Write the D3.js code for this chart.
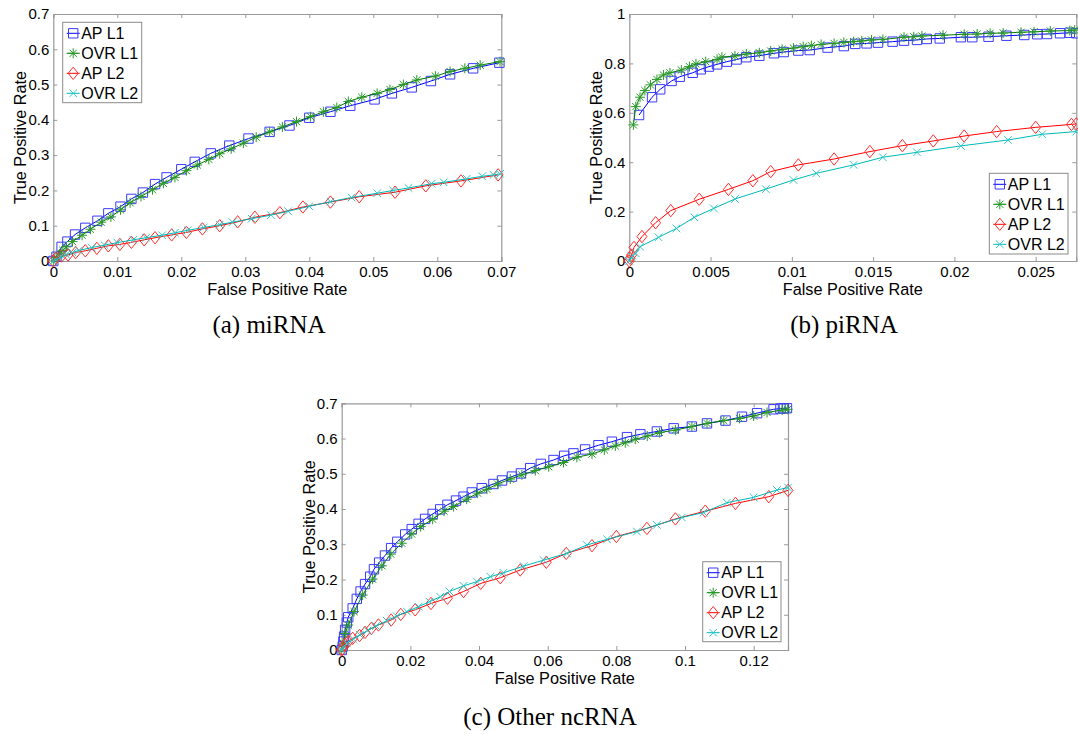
<!DOCTYPE html>
<html>
<head>
<meta charset="utf-8">
<script src="https://cdn.jsdelivr.net/npm/d3@7"></script>
<style>
  html, body { margin: 0; padding: 0; background: #ffffff; }
  svg { display: block; }
  .tick-label { font-family: "Liberation Sans", Arial, sans-serif; font-size: 15px; fill: #000; }
  .axis-title { font-family: "Liberation Sans", Arial, sans-serif; font-size: 16.25px; fill: #000; }
  .legend-text { font-family: "Liberation Sans", Arial, sans-serif; font-size: 16px; fill: #000; }
  .caption { font-family: "Liberation Serif", "Times New Roman", serif; font-size: 25px; fill: #000; }
</style>
</head>
<body>
<svg id="chart" width="1078" height="734"></svg>
<script>
// ROC curves (false positive rate, true positive rate) for each RNA class

// (a) miRNA
const miApL1 = [[0,0],[0.0005,0.012],[0.0013,0.04],[0.0022,0.055],[0.0034,0.075],[0.005,0.094],[0.0069,0.114],[0.0086,0.135],[0.0105,0.154],[0.0122,0.176],[0.014,0.194],[0.0159,0.218],[0.0177,0.237],[0.02,0.26],[0.0221,0.281],[0.0246,0.305],[0.0275,0.327],[0.0305,0.347],[0.0338,0.366],[0.0369,0.384],[0.04,0.406],[0.0433,0.423],[0.0464,0.44],[0.0502,0.458],[0.0529,0.475],[0.056,0.492],[0.059,0.51],[0.062,0.529],[0.0656,0.546],[0.0697,0.562]];
const miOvrL1 = [[0,0],[0.0005,0.01],[0.001,0.02],[0.0015,0.03],[0.002,0.04],[0.003,0.055],[0.0045,0.073],[0.0058,0.09],[0.0075,0.11],[0.009,0.125],[0.0105,0.145],[0.012,0.165],[0.0137,0.183],[0.0155,0.202],[0.0172,0.22],[0.019,0.237],[0.0208,0.256],[0.0225,0.272],[0.0243,0.288],[0.026,0.304],[0.0278,0.318],[0.0297,0.334],[0.0317,0.351],[0.0338,0.366],[0.0358,0.38],[0.038,0.395],[0.0402,0.409],[0.0422,0.423],[0.0443,0.435],[0.0461,0.452],[0.0482,0.464],[0.0506,0.475],[0.0526,0.486],[0.0547,0.5],[0.0568,0.513],[0.0597,0.524],[0.062,0.537],[0.0643,0.546],[0.0667,0.555],[0.0698,0.565]];
const miApL2 = [[0,0],[0.0004,0.008],[0.0013,0.014],[0.0023,0.017],[0.0035,0.024],[0.005,0.029],[0.0068,0.036],[0.0086,0.043],[0.0104,0.047],[0.0122,0.053],[0.0142,0.06],[0.0159,0.066],[0.0185,0.074],[0.0208,0.081],[0.0233,0.091],[0.026,0.1],[0.0288,0.111],[0.0315,0.124],[0.0354,0.137],[0.039,0.153],[0.0433,0.167],[0.0478,0.182],[0.0534,0.195],[0.0582,0.213],[0.0637,0.227],[0.0695,0.244]];
const miOvrL2 = [[0,0],[0.001,0.01],[0.002,0.018],[0.003,0.024],[0.004,0.03],[0.006,0.038],[0.008,0.045],[0.01,0.052],[0.0125,0.06],[0.0145,0.066],[0.017,0.073],[0.019,0.08],[0.021,0.087],[0.0235,0.095],[0.026,0.103],[0.028,0.11],[0.031,0.12],[0.034,0.13],[0.0367,0.141],[0.04,0.155],[0.0433,0.168],[0.0466,0.18],[0.0506,0.192],[0.0531,0.2],[0.0555,0.207],[0.0591,0.219],[0.061,0.223],[0.0646,0.233],[0.067,0.24],[0.0688,0.244],[0.0698,0.247]];

// (b) piRNA
const piApL1 = [[0.0006,0.591],[0.0014,0.663],[0.0019,0.695],[0.0026,0.729],[0.0031,0.746],[0.0039,0.762],[0.0044,0.776],[0.0049,0.787],[0.0054,0.796],[0.006,0.807],[0.0066,0.816],[0.0072,0.825],[0.008,0.831],[0.0089,0.841],[0.0095,0.846],[0.0104,0.852],[0.0111,0.854],[0.0122,0.864],[0.0132,0.87],[0.0139,0.879],[0.0146,0.881],[0.0153,0.884],[0.0162,0.888],[0.0169,0.892],[0.0177,0.895],[0.0183,0.899],[0.0191,0.901],[0.0204,0.906],[0.0211,0.906],[0.0221,0.908],[0.0232,0.912],[0.0243,0.915],[0.0251,0.918],[0.0257,0.919],[0.0265,0.922],[0.0271,0.924],[0.0275,0.922]];
const piOvrL1 = [[0.00025,0.551],[0.0004,0.625],[0.00066,0.663],[0.00096,0.69],[0.0013,0.713],[0.0017,0.735],[0.0021,0.753],[0.0025,0.762],[0.0032,0.773],[0.0037,0.787],[0.0041,0.798],[0.0047,0.807],[0.0054,0.816],[0.0057,0.825],[0.0065,0.83],[0.0072,0.838],[0.008,0.843],[0.0087,0.85],[0.0094,0.857],[0.0101,0.862],[0.0107,0.868],[0.0112,0.872],[0.0118,0.877],[0.0126,0.881],[0.0132,0.885],[0.0138,0.888],[0.0143,0.891],[0.0149,0.895],[0.0156,0.897],[0.0169,0.906],[0.0175,0.908],[0.018,0.911],[0.0193,0.914],[0.0206,0.918],[0.0214,0.919],[0.0222,0.922],[0.023,0.923],[0.0241,0.926],[0.0249,0.928],[0.0259,0.931],[0.0271,0.933],[0.0274,0.935]];
const piApL2 = [[0,0],[0.00004,0.011],[0.00014,0.024],[0.00029,0.055],[0.00078,0.099],[0.00162,0.155],[0.00255,0.204],[0.0043,0.25],[0.0061,0.29],[0.0076,0.325],[0.0087,0.362],[0.0104,0.389],[0.0126,0.413],[0.0148,0.443],[0.0168,0.467],[0.0187,0.486],[0.0206,0.506],[0.0226,0.524],[0.025,0.541],[0.0272,0.553],[0.0275,0.555]];
const piOvrL2 = [[0,0],[0.00014,0.018],[0.0004,0.031],[0.00066,0.058],[0.0018,0.096],[0.0029,0.132],[0.004,0.177],[0.0052,0.213],[0.0065,0.251],[0.0084,0.291],[0.0101,0.328],[0.0115,0.355],[0.0138,0.389],[0.0156,0.42],[0.0177,0.44],[0.0204,0.466],[0.0233,0.49],[0.0254,0.513],[0.0275,0.524]];

// (c) Other ncRNA
const ncApL1 = [[0,0],[0.0003,0.01],[0.0005,0.024],[0.0007,0.038],[0.001,0.057],[0.0015,0.078],[0.0019,0.093],[0.0032,0.118],[0.0044,0.145],[0.0055,0.166],[0.0068,0.187],[0.0083,0.208],[0.0094,0.229],[0.0109,0.248],[0.0126,0.268],[0.0144,0.289],[0.0162,0.307],[0.0185,0.328],[0.0204,0.343],[0.0224,0.358],[0.0243,0.372],[0.0265,0.386],[0.0287,0.399],[0.0308,0.412],[0.0333,0.424],[0.0355,0.435],[0.0379,0.447],[0.0408,0.459],[0.0442,0.471],[0.0467,0.481],[0.0496,0.492],[0.0522,0.501],[0.0549,0.516],[0.058,0.528],[0.0617,0.539],[0.0648,0.551],[0.0675,0.558],[0.0709,0.569],[0.0748,0.581],[0.0787,0.591],[0.0831,0.604],[0.087,0.612],[0.0918,0.62],[0.0967,0.629],[0.102,0.634],[0.1064,0.643],[0.1118,0.651],[0.1166,0.662],[0.121,0.672],[0.1258,0.683],[0.1278,0.685],[0.1288,0.686],[0.1297,0.686]];
const ncOvrL1 = [[0,0],[0.0005,0.019],[0.001,0.047],[0.0019,0.071],[0.0036,0.109],[0.0061,0.156],[0.009,0.201],[0.0117,0.239],[0.0143,0.272],[0.0175,0.303],[0.0204,0.329],[0.023,0.35],[0.0265,0.371],[0.0298,0.394],[0.0326,0.407],[0.0364,0.428],[0.0396,0.445],[0.0423,0.456],[0.0454,0.471],[0.0491,0.485],[0.0525,0.497],[0.0564,0.509],[0.0603,0.52],[0.0646,0.532],[0.0685,0.547],[0.0729,0.556],[0.0765,0.568],[0.0797,0.579],[0.0826,0.588],[0.0855,0.598],[0.089,0.607],[0.0926,0.617],[0.0972,0.624],[0.102,0.634],[0.1064,0.643],[0.1113,0.651],[0.1159,0.657],[0.12,0.664],[0.1239,0.674],[0.1283,0.681],[0.1299,0.683]];
const ncApL2 = [[0,0],[0.0002,0.002],[0.0005,0.012],[0.001,0.016],[0.0019,0.024],[0.0032,0.033],[0.0052,0.041],[0.0068,0.05],[0.0086,0.061],[0.0107,0.071],[0.0144,0.085],[0.0172,0.101],[0.0214,0.114],[0.026,0.132],[0.0308,0.147],[0.0355,0.166],[0.0405,0.189],[0.0462,0.205],[0.052,0.227],[0.0596,0.249],[0.0654,0.274],[0.0729,0.296],[0.08,0.322],[0.0889,0.345],[0.0972,0.372],[0.1059,0.394],[0.1147,0.416],[0.1244,0.435],[0.13,0.453]];
const ncOvrL2 = [[0,0],[0.0005,0.009],[0.0015,0.019],[0.0034,0.031],[0.0053,0.043],[0.0075,0.055],[0.01,0.068],[0.0131,0.083],[0.016,0.096],[0.019,0.109],[0.0224,0.123],[0.0256,0.137],[0.0287,0.151],[0.0314,0.166],[0.0355,0.182],[0.0394,0.194],[0.0433,0.208],[0.0471,0.219],[0.053,0.238],[0.0588,0.255],[0.0656,0.274],[0.0714,0.298],[0.0773,0.314],[0.086,0.336],[0.0918,0.355],[0.0991,0.376],[0.1054,0.39],[0.1122,0.418],[0.12,0.433],[0.1268,0.454],[0.13,0.461]];

// Series names and tick values
const seriesNames = ["AP L1", "OVR L1", "AP L2", "OVR L2"];
const miXTicks = [0, 0.01, 0.02, 0.03, 0.04, 0.05, 0.06, 0.07];
const miXLabels = ["0", "0.01", "0.02", "0.03", "0.04", "0.05", "0.06", "0.07"];
const miYTicks = [0, 0.1, 0.2, 0.3, 0.4, 0.5, 0.6, 0.7];
const miYLabels = ["0", "0.1", "0.2", "0.3", "0.4", "0.5", "0.6", "0.7"];
const piXTicks = [0, 0.005, 0.01, 0.015, 0.02, 0.025];
const piXLabels = ["0", "0.005", "0.01", "0.015", "0.02", "0.025"];
const piYTicks = [0, 0.2, 0.4, 0.6, 0.8, 1];
const piYLabels = ["0", "0.2", "0.4", "0.6", "0.8", "1"];
const ncXTicks = [0, 0.02, 0.04, 0.06, 0.08, 0.1, 0.12];
const ncXLabels = ["0", "0.02", "0.04", "0.06", "0.08", "0.1", "0.12"];
const ncYTicks = miYTicks;
const ncYLabels = miYLabels;
const captions = ["(a) miRNA", "(b) piRNA", "(c) Other ncRNA"];

// Visual styles for the four series
const styles = [
  { line: "#0000ff", marker: "#3a3aff", shape: "square" },
  { line: "#007a00", marker: "#2a9a2a", shape: "star" },
  { line: "#ff0000", marker: "#ff3030", shape: "diamond" },
  { line: "#00b8b8", marker: "#30c8c8", shape: "cross" }
];

function markerPath(shape) {
  switch (shape) {
    case "square": return "M-4.7,-4.7H4.7V4.7H-4.7Z";
    case "diamond": return "M0,-6.2L5,0L0,6.2L-5,0Z";
    case "star": return "M-5,0H5M0,-5V5M-3.6,-3.6L3.6,3.6M-3.6,3.6L3.6,-3.6";
    case "cross": return "M-3.8,-3.8L3.8,3.8M-3.8,3.8L3.8,-3.8";
  }
}

const svg = d3.select("#chart");

function drawPanel(cfg) {
  const x = d3.scaleLinear().domain(cfg.xDomain).range([cfg.left, cfg.right]);
  const y = d3.scaleLinear().domain(cfg.yDomain).range([cfg.bottom, cfg.top]);
  const g = svg.append("g");
  const tickLen = 4;
  const boxColor = "#9a9a9a";

  // axes with inward ticks on all four sides
  const axes = [
    { ax: d3.axisBottom(x).tickValues(cfg.xTicks).tickSize(-tickLen).tickPadding(5).tickFormat((d, i) => cfg.xLabels[i]), at: `translate(0,${cfg.bottom})` },
    { ax: d3.axisTop(x).tickValues(cfg.xTicks).tickSize(-tickLen).tickFormat(""), at: `translate(0,${cfg.top})` },
    { ax: d3.axisLeft(y).tickValues(cfg.yTicks).tickSize(-tickLen).tickPadding(4).tickFormat((d, i) => cfg.yLabels[i]), at: `translate(${cfg.left},0)` },
    { ax: d3.axisRight(y).tickValues(cfg.yTicks).tickSize(-tickLen).tickFormat(""), at: `translate(${cfg.right},0)` }
  ];
  axes.forEach(a => {
    const ag = g.append("g").attr("transform", a.at).call(a.ax);
    ag.attr("font-family", null).attr("font-size", null);
    ag.select(".domain").attr("stroke", boxColor).attr("stroke-width", 1.2);
    ag.selectAll(".tick line").attr("stroke", boxColor).attr("stroke-width", 1);
    ag.selectAll(".tick text").attr("class", "tick-label").attr("fill", "#000");
  });

  // axis titles
  g.append("text").attr("class", "axis-title")
    .attr("x", (cfg.left + cfg.right) / 2).attr("y", cfg.bottom + 33.5)
    .attr("text-anchor", "middle").text("False Positive Rate");
  g.append("text").attr("class", "axis-title")
    .attr("transform", `translate(${cfg.left - 27},${(cfg.top + cfg.bottom) / 2}) rotate(-90)`)
    .attr("text-anchor", "middle").text("True Positive Rate");

  // curves
  const line = d3.line().x(d => x(d[0])).y(d => y(d[1]));
  cfg.series.forEach((data, i) => {
    const st = styles[i];
    const sg = g.append("g");
    sg.append("path").datum(data).attr("d", line)
      .attr("fill", "none").attr("stroke", st.line).attr("stroke-width", 1);
    sg.selectAll("path.mk").data(data).join("path").attr("class", "mk")
      .attr("transform", d => `translate(${x(d[0])},${y(d[1])})`)
      .attr("d", markerPath(st.shape))
      .attr("fill", "none").attr("stroke", st.marker).attr("stroke-width", 1);
  });

  // legend
  const lg = g.append("g");
  lg.append("rect").attr("x", cfg.legend.x).attr("y", cfg.legend.y)
    .attr("width", cfg.legend.w).attr("height", cfg.legend.h)
    .attr("fill", "#fff").attr("stroke", "#8a8a8a").attr("stroke-width", 1);
  seriesNames.forEach((name, i) => {
    const st = styles[i];
    const cy = cfg.legend.y + 11 + i * 20;
    const x0 = cfg.legend.x + 4;
    lg.append("line").attr("x1", x0).attr("x2", x0 + 13).attr("y1", cy).attr("y2", cy)
      .attr("stroke", st.line).attr("stroke-width", 1);
    lg.append("path").attr("transform", `translate(${x0 + 6.5},${cy})`)
      .attr("d", markerPath(st.shape)).attr("fill", "none")
      .attr("stroke", st.marker).attr("stroke-width", 1);
    lg.append("text").attr("class", "legend-text").attr("x", x0 + 14.5).attr("y", cy + 5.7).text(name);
  });

  // caption
  if (cfg.caption) {
    svg.append("text").attr("class", "caption").attr("x", cfg.caption.x).attr("y", cfg.caption.y)
      .attr("text-anchor", "middle").text(cfg.caption.text);
  }
}

drawPanel({
  left: 53.3, right: 501.3, top: 14, bottom: 261,
  xDomain: [0, 0.07], yDomain: [0, 0.7],
  xTicks: miXTicks, xLabels: miXLabels, yTicks: miYTicks, yLabels: miYLabels,
  series: [miApL1, miOvrL1, miApL2, miOvrL2],
  legend: { x: 62.7, y: 22.3, w: 79, h: 80.4 },
  caption: { x: 269, y: 333, text: captions[0] }
});

drawPanel({
  left: 629.3, right: 1076.3, top: 14, bottom: 261,
  xDomain: [0, 0.0275], yDomain: [0, 1],
  xTicks: piXTicks, xLabels: piXLabels, yTicks: piYTicks, yLabels: piYLabels,
  series: [piApL1, piOvrL1, piApL2, piOvrL2],
  legend: { x: 989.3, y: 173.3, w: 78.7, h: 80.7 },
  caption: { x: 844, y: 333, text: captions[1] }
});

drawPanel({
  left: 341.7, right: 788, top: 403.3, bottom: 650,
  xDomain: [0, 0.13], yDomain: [0, 0.7],
  xTicks: ncXTicks, xLabels: ncXLabels, yTicks: ncYTicks, yLabels: ncYLabels,
  series: [ncApL1, ncOvrL1, ncApL2, ncOvrL2],
  legend: { x: 702.7, y: 561.7, w: 78.3, h: 80 },
  caption: { x: 550, y: 725, text: captions[2] }
});
</script>
</body>
</html>
